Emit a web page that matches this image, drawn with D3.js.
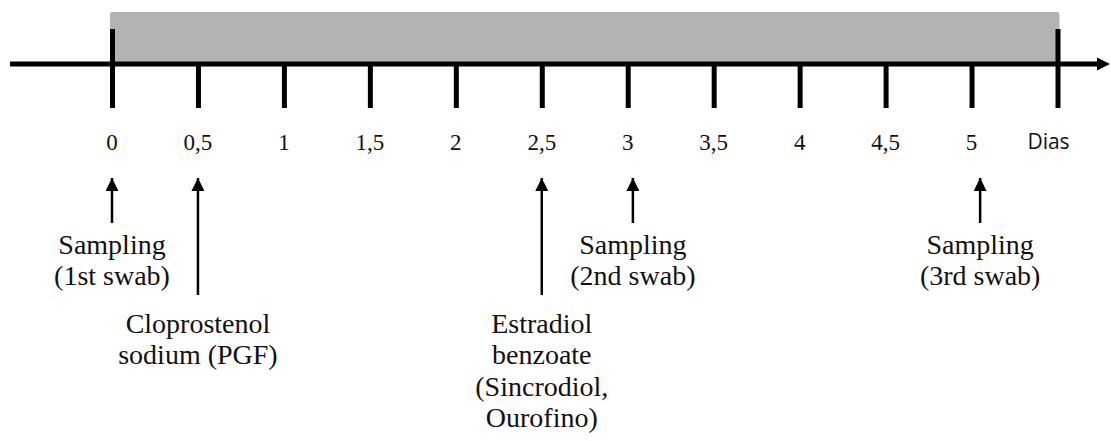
<!DOCTYPE html>
<html>
  <head>
    <meta charset="utf-8">
    <title></title>
  </head>
  <style>
  body{
      margin: 0;
      background-color: #fff
    }
    svg { display: block }
    .serif { font-family: "Liberation Serif", "Times New Roman", serif; fill: #111 }
    .unit { font-family: "Open Sans", sans-serif; fill: #111 }
  </style>
  <script src="https://d3js.org/d3.v7.min.js"></script>
  <body>
    <script>
    // timeline data
    const tickValues = [0, 0.5, 1, 1.5, 2, 2.5, 3, 3.5, 4, 4.5, 5]
    const tickLabels = ["0", "0,5", "1", "1,5", "2", "2,5", "3", "3,5", "4", "4,5", "5"]
    const unitDay = 5.5
    const unitLabel = "Dias"

    const periodStart = 0
    const periodEnd = 5.5

    const eventDays = [0, 0.5, 2.5, 3.03, 5.05]
    const eventTier = [0, 1, 1, 0, 0]
    const eventTexts = [
      ["Sampling", "(1st swab)"],
      ["Cloprostenol", "sodium (PGF)"],
      ["Estradiol", "benzoate", "(Sincrodiol,", "Ourofino)"],
      ["Sampling", "(2nd swab)"],
      ["Sampling", "(3rd swab)"]
    ]

    var width = 1111
    var height = 441
    var axisY = 64

    var svg = d3.select("body")
                .append("svg")
                .attr("width", width)
                .attr("height", height)

    var x = d3.scaleLinear()
              .domain([0, 5.5])
              .range([112, 1057.5])

    // gray period
    svg.append("rect")
       .attr("x", x(periodStart) - 2)
       .attr("y", 12)
       .attr("width", x(periodEnd) - x(periodStart) + 4)
       .attr("height", axisY - 12)
       .attr("rx", 2)
       .attr("fill", "#b3b3b3")

    // main line with arrow
    svg.append("defs").append("marker")
       .attr("id", "bigarrow")
       .attr("viewBox", "0 0 10 10")
       .attr("refX", 0).attr("refY", 5)
       .attr("markerUnits", "userSpaceOnUse")
       .attr("markerWidth", 13).attr("markerHeight", 17)
       .attr("orient", "auto")
       .append("path").attr("d", "M0,0L10,5L0,10Z").attr("fill", "#000")

    svg.append("line")
       .attr("x1", 10).attr("x2", 1097)
       .attr("y1", axisY).attr("y2", axisY)
       .attr("stroke", "#000").attr("stroke-width", 5)
       .attr("marker-end", "url(#bigarrow)")

    // tick marks via d3 axis (labels drawn separately)
    var axis = d3.axisBottom(x)
                 .tickValues(tickValues.concat([unitDay]))
                 .tickSize(44)
                 .tickFormat("")

    var g = svg.append("g")
               .attr("transform", "translate(0," + axisY + ")")
               .call(axis)
    g.select(".domain").remove()
    g.selectAll(".tick text").remove()
    g.selectAll(".tick line")
     .attr("stroke", "#000")
     .attr("stroke-width", 5)
     .attr("y1", function(d){ return (d === periodStart || d === unitDay) ? -35 : 0 })

    var labels = svg.append("g")
    labels.selectAll("text")
          .data(tickValues)
          .enter()
          .append("text")
          .attr("class", "serif")
          .attr("x", function(d){ return x(d) })
          .attr("y", 150)
          .attr("text-anchor", "middle")
          .style("font-size", "23px")
          .text(function(d, i){ return tickLabels[i] })

    labels.append("text")
          .attr("class", "unit")
          .attr("x", x(unitDay) - 9)
          .attr("y", 149)
          .attr("text-anchor", "middle")
          .style("font-size", "21px")
          .text(unitLabel)

    // event arrows
    svg.select("defs").append("marker")
       .attr("id", "smallarrow")
       .attr("viewBox", "0 0 10 10")
       .attr("refX", 10).attr("refY", 5)
       .attr("markerUnits", "userSpaceOnUse")
       .attr("markerWidth", 15).attr("markerHeight", 13)
       .attr("orient", "auto")
       .append("path").attr("d", "M0,0L10,5L0,10Z").attr("fill", "#000")

    var arrowBottom = [223, 295]
    var textTop = [254, 333]

    var ev = svg.append("g").selectAll("g")
                .data(eventDays)
                .enter()
                .append("g")
                .attr("transform", function(d){ return "translate(" + x(d) + ",0)" })

    ev.append("line")
      .attr("x1", 0).attr("x2", 0)
      .attr("y1", function(d, i){ return arrowBottom[eventTier[i]] })
      .attr("y2", 178)
      .attr("stroke", "#000")
      .attr("stroke-width", 2.5)
      .attr("marker-end", "url(#smallarrow)")

    ev.each(function(d, i){
      var t = d3.select(this).append("text")
                .attr("class", "serif")
                .style("font-size", "28px")
                .attr("text-anchor", "middle")
      t.selectAll("tspan")
       .data(eventTexts[i])
       .enter()
       .append("tspan")
       .attr("x", 0)
       .attr("y", function(s, j){ return textTop[eventTier[i]] + j * 31.3 })
       .text(function(s){ return s })
    })
    </script>
  </body>
</html>
